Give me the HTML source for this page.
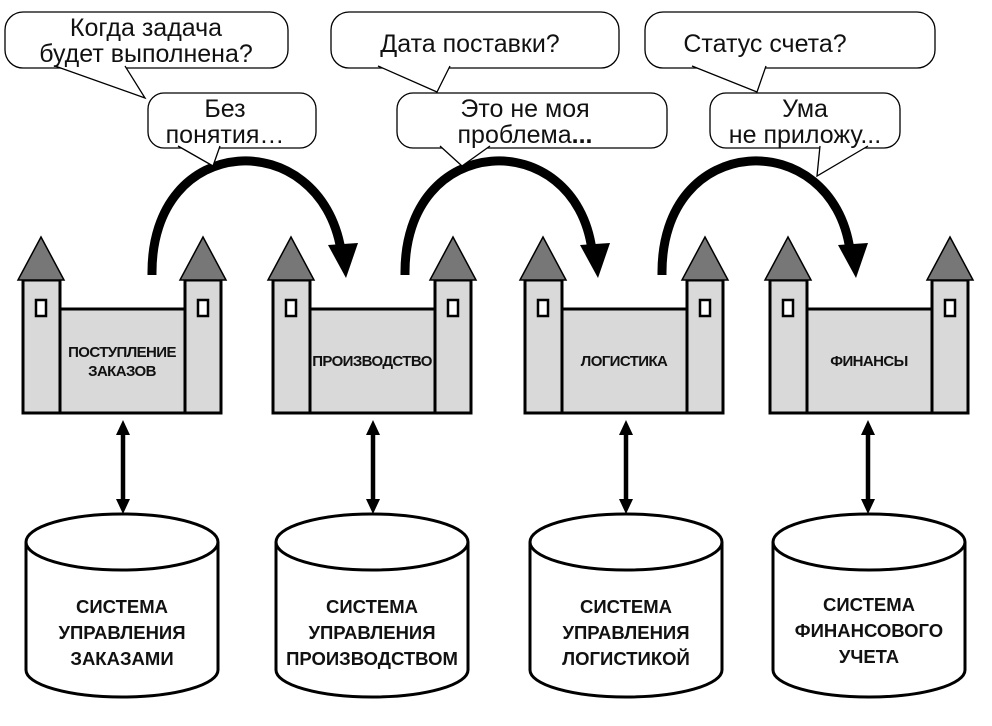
<!DOCTYPE html>
<html><head><meta charset="utf-8"><style>
html,body{margin:0;padding:0;background:#fff}
svg{display:block}
text{font-family:"Liberation Sans",Arial,sans-serif}
.q{font-size:25px;fill:#111}
.c{font-size:15px;font-weight:bold;fill:#111;letter-spacing:-0.6px}
.d{font-size:18.5px;font-weight:bold;fill:#111}
</style></head><body>
<svg width="992" height="726" viewBox="0 0 992 726" xmlns="http://www.w3.org/2000/svg">
<defs>
<g id="castle">
  <rect x="60" y="309" width="125" height="104" fill="#d9d9d9" stroke="#000" stroke-width="3"/>
  <rect x="23" y="280" width="37" height="133" fill="#d9d9d9" stroke="#000" stroke-width="3"/>
  <rect x="185" y="280" width="36" height="133" fill="#d9d9d9" stroke="#000" stroke-width="3"/>
  <polygon points="41,237 18,280 64,280" fill="#777" stroke="#000" stroke-width="1.5"/>
  <polygon points="203,237 180,280 226,280" fill="#777" stroke="#000" stroke-width="1.5"/>
  <rect x="36" y="300" width="10" height="16" fill="#fff" stroke="#000" stroke-width="2.5"/>
  <rect x="198" y="300" width="10" height="16" fill="#fff" stroke="#000" stroke-width="2.5"/>
</g>
<g id="cyl">
  <path d="M-96,542 L-96,670 A96,27 0 0 0 96,670 L96,542" fill="#fff" stroke="#000" stroke-width="3"/>
  <ellipse cx="0" cy="542" rx="96" ry="28" fill="#fff" stroke="#000" stroke-width="3"/>
</g>
<g id="varr">
  <line x1="0" y1="432" x2="0" y2="502" stroke="#000" stroke-width="4.5"/>
  <polygon points="0,420 -7,435 7,435" fill="#000"/>
  <polygon points="0,514 -7,499 7,499" fill="#000"/>
</g>
</defs>

<use href="#castle"/>
<use href="#castle" x="250"/>
<use href="#castle" x="502"/>
<use href="#castle" x="747"/>
<text class="c" x="122" y="357" text-anchor="middle">ПОСТУПЛЕНИЕ</text>
<text class="c" x="122" y="376" text-anchor="middle">ЗАКАЗОВ</text>
<text class="c" x="372" y="366" text-anchor="middle">ПРОИЗВОДСТВО</text>
<text class="c" x="624" y="366" text-anchor="middle">ЛОГИСТИКА</text>
<text class="c" x="869" y="366" text-anchor="middle">ФИНАНСЫ</text>

<use href="#varr" x="123"/>
<use href="#varr" x="373"/>
<use href="#varr" x="626"/>
<use href="#varr" x="868"/>

<use href="#cyl" x="122"/>
<use href="#cyl" x="372"/>
<use href="#cyl" x="626"/>
<use href="#cyl" x="869"/>
<g text-anchor="middle">
<text class="d" x="122" y="613">СИСТЕМА</text><text class="d" x="122" y="639">УПРАВЛЕНИЯ</text><text class="d" x="122" y="665">ЗАКАЗАМИ</text>
<text class="d" x="372" y="613">СИСТЕМА</text><text class="d" x="372" y="639">УПРАВЛЕНИЯ</text><text class="d" x="372" y="665">ПРОИЗВОДСТВОМ</text>
<text class="d" x="626" y="613">СИСТЕМА</text><text class="d" x="626" y="639">УПРАВЛЕНИЯ</text><text class="d" x="626" y="665">ЛОГИСТИКОЙ</text>
<text class="d" x="869" y="611">СИСТЕМА</text><text class="d" x="869" y="637">ФИНАНСОВОГО</text><text class="d" x="869" y="663">УЧЕТА</text>
</g>

<g fill="none" stroke="#000" stroke-width="9">
<path d="M152,275 C150,130 320,125 341,250"/>
<path d="M405,275 C403,130 575,125 592,250"/>
<path d="M662,275 C660,130 832,125 850,250"/>
</g>
<g fill="#000">
<polygon points="328,245 358,243 346,278"/>
<polygon points="580,245 610,243 598,278"/>
<polygon points="838,245 868,243 856,278"/>
</g>

<g fill="#fff" stroke="#000" stroke-width="1.3">
<rect x="5" y="12" width="283" height="56" rx="18"/>
<polyline points="55,66 145,98 125,66"/>
<rect x="148" y="93" width="168" height="55" rx="16"/>
<polyline points="178,146 213,166 220,146"/>
<rect x="331" y="12" width="288" height="56" rx="18"/>
<polyline points="378,66 437,92 450,66"/>
<rect x="397" y="93" width="270" height="55" rx="16"/>
<polyline points="440,146 462,166 490,146"/>
<rect x="645" y="12" width="290" height="56" rx="18"/>
<polyline points="692,66 757,92 766,66"/>
<rect x="710" y="93" width="190" height="55" rx="16"/>
<polyline points="820,146 817,176 868,146"/>
</g>
<g text-anchor="middle">
<text class="q" x="146" y="36">Когда задача</text>
<text class="q" x="146" y="62">будет выполнена?</text>
<text class="q" x="225" y="117">Без</text>
<text class="q" x="225" y="143">понятия…</text>
<text class="q" x="470" y="52">Дата поставки?</text>
<text class="q" x="525" y="117">Это не моя</text>
<text class="q" x="525" y="143">проблема<tspan font-weight="bold">...</tspan></text>
<text class="q" x="765" y="52">Статус счета?</text>
<text class="q" x="805" y="117">Ума</text>
<text class="q" x="805" y="143">не приложу...</text>
</g>
</svg>
</body></html>
